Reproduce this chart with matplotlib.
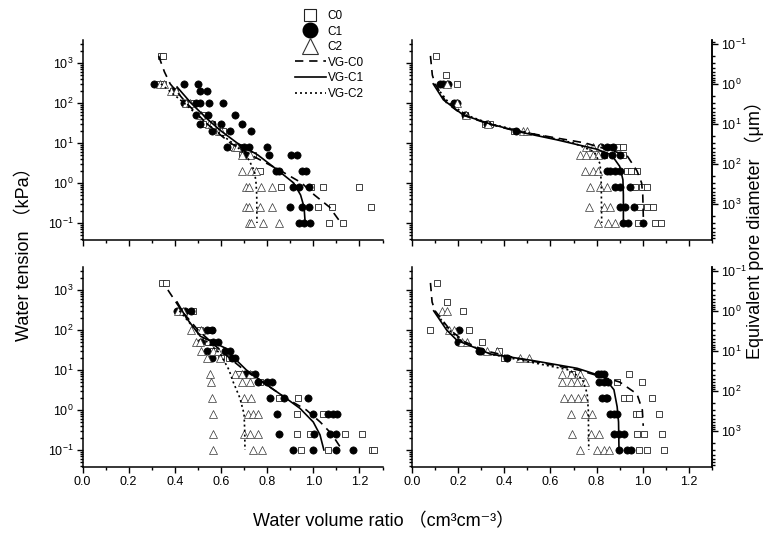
import numpy as np
import matplotlib
matplotlib.use('Agg')
import matplotlib.pyplot as plt
from matplotlib.ticker import (MultipleLocator, FormatStrFormatter, NullFormatter, FixedLocator)
from matplotlib.lines import Line2D

plt.rcParams['font.family'] = ['Liberation Sans', 'Noto Sans CJK SC', 'DejaVu Sans']
plt.rcParams['mathtext.fontset'] = 'custom'
plt.rcParams['mathtext.rm'] = 'Liberation Sans'
plt.rcParams['mathtext.it'] = 'Liberation Sans:italic'
plt.rcParams['mathtext.bf'] = 'Liberation Sans:bold'

# ---- data (x = water volume ratio, h = tension kPa) ----
# top-left panel
A_c0_x = [0.34, 0.35, 0.33, 0.35, 0.39, 0.40, 0.45, 0.47, 0.52, 0.52, 0.56, 0.59, 0.61, 0.65, 0.68,
          0.69, 0.74, 0.77, 0.86, 0.99, 1.04, 1.20, 1.02, 1.08, 1.25, 1.07, 1.13]
A_c0_h = [1500, 1500, 300, 300, 200, 200, 100, 100, 50, 30, 30, 20, 20, 8, 8,
          5, 5, 2, 0.8, 0.8, 0.8, 0.8, 0.25, 0.25, 0.25, 0.1, 0.1]
A_c1_x = [0.31, 0.44, 0.50, 0.39, 0.51, 0.54, 0.44, 0.49, 0.51, 0.55, 0.61, 0.49, 0.545, 0.66,
          0.51, 0.56, 0.60, 0.69, 0.56, 0.64, 0.73, 0.625, 0.67, 0.70, 0.72, 0.80,
          0.71, 0.81, 0.905, 0.93, 0.84, 0.85, 0.95, 0.97, 0.91, 0.94, 0.98, 0.90, 0.95, 0.98,
          0.94, 0.96, 0.985]
A_c1_h = [300, 300, 300, 200, 200, 200, 100, 100, 100, 100, 100, 50, 50, 50,
          30, 30, 30, 30, 20, 20, 20, 8, 8, 8, 8, 8,
          5, 5, 5, 5, 2, 2, 2, 2, 0.8, 0.8, 0.8, 0.25, 0.25, 0.25,
          0.1, 0.1, 0.1]
A_c2_x = [0.335, 0.355, 0.385, 0.405, 0.45, 0.465, 0.515, 0.55, 0.56, 0.59, 0.60, 0.66, 0.67,
          0.69, 0.725, 0.69, 0.73, 0.75, 0.71, 0.72, 0.775, 0.82, 0.71, 0.72, 0.77, 0.82,
          0.72, 0.73, 0.78, 0.85]
A_c2_h = [300, 300, 200, 200, 100, 100, 50, 30, 30, 20, 20, 8, 8,
          5, 5, 2, 2, 2, 0.8, 0.8, 0.8, 0.8, 0.25, 0.25, 0.25, 0.25,
          0.1, 0.1, 0.1, 0.1]
A_vg0_x = [0.33, 0.355, 0.38, 0.45, 0.54, 0.64, 0.73, 0.86, 0.95, 1.005, 1.07, 1.12]
A_vg0_h = [1500, 600, 300, 100, 30, 10, 5, 2, 1, 0.5, 0.25, 0.1]
A_vg1_x = [0.41, 0.47, 0.54, 0.60, 0.67, 0.76, 0.85, 0.915, 0.945, 0.96, 0.965]
A_vg1_h = [250, 100, 40, 20, 10, 5, 2, 1, 0.5, 0.25, 0.1]
A_vg2_x = [0.34, 0.44, 0.54, 0.65, 0.71, 0.745, 0.752, 0.755, 0.756]
A_vg2_h = [300, 100, 30, 10, 5, 2, 1, 0.5, 0.1]

# top-right panel
B_c0_x = [0.105, 0.148, 0.195, 0.186, 0.23, 0.316, 0.338, 0.44, 0.86, 0.89, 0.915, 0.83, 0.915,
          0.93, 0.95, 0.975, 0.965, 0.995, 1.02, 0.99, 1.02, 1.045, 0.98, 1.055, 1.08]
B_c0_h = [1500, 500, 300, 100, 50, 30, 30, 20, 8, 8, 8, 5, 5,
          2, 2, 2, 0.8, 0.8, 0.8, 0.25, 0.25, 0.25, 0.1, 0.1, 0.1]
B_c1_x = [0.12, 0.135, 0.155, 0.18, 0.195, 0.23, 0.325, 0.45, 0.82, 0.845, 0.87, 0.83, 0.865, 0.90,
          0.845, 0.86, 0.88, 0.90, 0.88, 0.90, 0.945, 0.90, 0.925, 0.96, 0.915, 0.935, 1.0]
B_c1_h = [300, 300, 300, 100, 100, 50, 30, 20, 8, 8, 8, 5, 5, 5,
          2, 2, 2, 2, 0.8, 0.8, 0.8, 0.25, 0.25, 0.25, 0.1, 0.1, 0.1]
B_c2_x = [0.15, 0.195, 0.235, 0.33, 0.48, 0.50, 0.755, 0.785, 0.815, 0.73, 0.755, 0.785, 0.805,
          0.75, 0.785, 0.805, 0.77, 0.815, 0.845, 0.765, 0.83, 0.86, 0.805, 0.85, 0.88]
B_c2_h = [300, 100, 50, 30, 20, 20, 8, 8, 8, 5, 5, 5, 5,
          2, 2, 2, 0.8, 0.8, 0.8, 0.25, 0.25, 0.25, 0.1, 0.1, 0.1]
B_vg0_x = [0.08, 0.088, 0.10, 0.15, 0.22, 0.33, 0.45, 0.75, 0.93, 0.975, 0.995, 1.0, 1.003]
B_vg0_h = [1500, 500, 300, 100, 50, 30, 20, 10, 5, 2, 1, 0.5, 0.1]
B_vg1_x = [0.092, 0.136, 0.222, 0.338, 0.482, 0.627, 0.80, 0.865, 0.90, 0.914, 0.916, 0.916]
B_vg1_h = [300, 120, 50, 30, 18, 12, 7, 5, 2.6, 1.2, 0.5, 0.1]
B_vg2_x = [0.095, 0.16, 0.235, 0.34, 0.47, 0.70, 0.79, 0.815, 0.82, 0.822]
B_vg2_h = [300, 100, 50, 30, 20, 10, 6, 3, 1, 0.1]

# bottom-left panel
C_c0_x = [0.345, 0.36, 0.42, 0.48, 0.51, 0.555, 0.545, 0.565, 0.60, 0.635, 0.68, 0.72, 0.77,
          0.852, 0.932, 0.928, 1.043, 0.928, 0.986, 1.137, 1.212, 0.945, 1.065, 1.253, 1.263]
C_c0_h = [1500, 1500, 300, 300, 100, 100, 50, 30, 20, 20, 8, 8, 5,
          2, 2, 0.8, 0.8, 0.25, 0.25, 0.25, 0.25, 0.1, 0.1, 0.1, 0.1]
C_c1_x = [0.41, 0.445, 0.47, 0.538, 0.56, 0.515, 0.567, 0.588, 0.538, 0.617, 0.639, 0.56, 0.646, 0.66,
          0.704, 0.747, 0.762, 0.798, 0.82, 0.812, 0.874, 0.978,
          0.841, 1.0, 1.065, 1.087, 1.104, 0.852, 1.003, 1.072, 1.10, 0.913, 1.0, 1.10, 1.173]
C_c1_h = [300, 300, 300, 100, 100, 50, 50, 50, 30, 30, 30, 20, 20, 20,
          8, 8, 5, 5, 5, 2, 2, 2,
          0.8, 0.8, 0.8, 0.8, 0.8, 0.25, 0.25, 0.25, 0.25, 0.1, 0.1, 0.1, 0.1]
C_c2_x = [0.415, 0.435, 0.47, 0.515, 0.49, 0.51, 0.515, 0.567, 0.588, 0.538, 0.598,
          0.552, 0.66, 0.69, 0.726, 0.558, 0.69, 0.726, 0.56, 0.70, 0.73,
          0.565, 0.718, 0.74, 0.762, 0.565, 0.70, 0.725, 0.76, 0.565, 0.74, 0.776]
C_c2_h = [300, 300, 100, 100, 50, 50, 30, 30, 30, 20, 20,
          8, 8, 8, 8, 5, 5, 5, 2, 2, 2,
          0.8, 0.8, 0.8, 0.8, 0.25, 0.25, 0.25, 0.25, 0.1, 0.1, 0.1]
C_vg0_x = [0.37, 0.43, 0.50, 0.60, 0.70, 0.78, 0.88, 0.97, 1.03, 1.08, 1.125]
C_vg0_h = [1000, 300, 100, 30, 10, 5, 2, 1, 0.5, 0.25, 0.1]
C_vg1_x = [0.41, 0.45, 0.51, 0.62, 0.653, 0.71, 0.80, 0.88, 0.942, 1.0, 1.029, 1.046]
C_vg1_h = [500, 200, 70, 35, 21, 10, 4.2, 2, 1.1, 0.5, 0.24, 0.1]
C_vg2_x = [0.42, 0.49, 0.54, 0.596, 0.635, 0.653, 0.682, 0.70, 0.703, 0.704]
C_vg2_h = [300, 100, 50, 26, 10, 5, 2, 0.8, 0.3, 0.1]

# bottom-right panel
D_c0_x = [0.108, 0.152, 0.221, 0.08, 0.246, 0.304, 0.296, 0.376, 0.398, 0.694, 0.94, 0.889, 0.998,
          0.918, 0.94, 1.041, 0.969, 0.983, 1.07, 0.976, 1.005, 1.085, 0.983, 1.02, 1.092]
D_c0_h = [1500, 500, 300, 100, 100, 50, 30, 30, 20, 8, 8, 5, 5,
          2, 2, 2, 0.8, 0.8, 0.8, 0.25, 0.25, 0.25, 0.1, 0.1, 0.1]
D_c1_x = [0.202, 0.20, 0.29, 0.30, 0.41, 0.805, 0.82, 0.83, 0.81, 0.83, 0.85, 0.825, 0.84, 0.846,
          0.86, 0.875, 0.89, 0.875, 0.897, 0.918, 0.897, 0.933, 0.947]
D_c1_h = [100, 50, 30, 30, 20, 8, 8, 8, 5, 5, 5, 2, 2, 2,
          0.8, 0.8, 0.8, 0.25, 0.25, 0.25, 0.1, 0.1, 0.1]
D_c2_x = [0.13, 0.15, 0.16, 0.18, 0.217, 0.24, 0.325, 0.37, 0.47, 0.505, 0.65, 0.69, 0.73,
          0.65, 0.69, 0.715, 0.75, 0.66, 0.69, 0.72, 0.745, 0.69, 0.75, 0.78, 0.695, 0.775, 0.81,
          0.73, 0.80, 0.83, 0.855]
D_c2_h = [300, 300, 100, 100, 50, 50, 30, 30, 20, 20, 8, 8, 8,
          5, 5, 5, 5, 2, 2, 2, 2, 0.8, 0.8, 0.8, 0.25, 0.25, 0.25,
          0.1, 0.1, 0.1, 0.1]
D_vg0_x = [0.08, 0.087, 0.10, 0.165, 0.23, 0.32, 0.45, 0.72, 0.90, 0.975, 0.998, 1.002]
D_vg0_h = [1500, 500, 300, 100, 50, 30, 20, 10, 5, 2.5, 1, 0.4]
D_vg1_x = [0.094, 0.15, 0.195, 0.34, 0.528, 0.716, 0.832, 0.875, 0.889, 0.895, 0.897]
D_vg1_h = [300, 100, 55, 25, 17, 11, 6.7, 3.2, 1.2, 0.5, 0.1]
D_vg2_x = [0.097, 0.16, 0.22, 0.34, 0.53, 0.68, 0.738, 0.759, 0.764, 0.766]
D_vg2_h = [300, 100, 50, 25, 15, 10, 6, 2.6, 1, 0.1]

# tick values
tension_ticks = [0.1, 1, 10, 100, 1000]
pore_ticks = [0.1, 1, 10, 100, 1000]

panels = {
    'A': (A_c0_x, A_c0_h, A_c1_x, A_c1_h, A_c2_x, A_c2_h, A_vg0_x, A_vg0_h, A_vg1_x, A_vg1_h, A_vg2_x, A_vg2_h),
    'B': (B_c0_x, B_c0_h, B_c1_x, B_c1_h, B_c2_x, B_c2_h, B_vg0_x, B_vg0_h, B_vg1_x, B_vg1_h, B_vg2_x, B_vg2_h),
    'C': (C_c0_x, C_c0_h, C_c1_x, C_c1_h, C_c2_x, C_c2_h, C_vg0_x, C_vg0_h, C_vg1_x, C_vg1_h, C_vg2_x, C_vg2_h),
    'D': (D_c0_x, D_c0_h, D_c1_x, D_c1_h, D_c2_x, D_c2_h, D_vg0_x, D_vg0_h, D_vg1_x, D_vg1_h, D_vg2_x, D_vg2_h),
}

W, H = 768, 536
fig = plt.figure(figsize=(W / 100, H / 100), dpi=100)

def px_rect(x0, x1, y0, y1):
    return [x0 / W, 1 - y1 / H, (x1 - x0) / W, (y1 - y0) / H]

rects = {
    'A': px_rect(82.5, 382.5, 40, 240),
    'B': px_rect(412, 712, 40, 240),
    'C': px_rect(82.5, 382.5, 267, 467),
    'D': px_rect(412, 712, 267, 467),
}

dash = (0, (5, 3.5))
dot = (0, (1.2, 1.8))

# minor ticks inside the shown range only
minor_vals = [m * 10.0 ** e for e in range(-2, 4) for m in range(2, 10)]

for key, rect in rects.items():
    c0x, c0h, c1x, c1h, c2x, c2h, v0x, v0h, v1x, v1h, v2x, v2h = panels[key]
    ax = fig.add_axes(rect)
    ax.plot(c0x, c0h, 's', ms=4.4, mfc='white', mec='#222222', mew=0.6, ls='none', zorder=2)
    ax.plot(c1x, c1h, 'o', ms=5.2, mfc='black', mec='black', mew=0.5, ls='none', zorder=2)
    ax.plot(c2x, c2h, '^', ms=5.6, mfc='white', mec='#333333', mew=0.5, ls='none', zorder=2)
    ax.plot(v0x, v0h, color='black', lw=1.2, ls=dash, zorder=3)
    ax.plot(v1x, v1h, color='black', lw=1.2, ls='-', zorder=3)
    ax.plot(v2x, v2h, color='black', lw=1.2, ls=dot, zorder=3)

    ax.set_yscale('log')
    ax.set_xlim(0, 1.3)
    ax.set_ylim(0.0375, 3750)
    ax.xaxis.set_major_locator(MultipleLocator(0.2))
    ax.xaxis.set_minor_locator(MultipleLocator(0.1))
    ax.xaxis.set_major_formatter(FormatStrFormatter('%.1f'))
    ax.yaxis.set_major_locator(FixedLocator(tension_ticks))
    ax.yaxis.set_minor_locator(FixedLocator([v for v in minor_vals if 0.0375 < v < 3750]))
    ax.yaxis.set_minor_formatter(NullFormatter())
    ax.tick_params(which='both', direction='out', width=1, labelsize=9, pad=2)
    ax.tick_params(which='major', length=4.5)
    ax.tick_params(which='minor', length=2.5)
    for s in ax.spines.values():
        s.set_linewidth(1.1)
    ax.spines['top'].set_visible(False)

    if key in ('A', 'B'):
        ax.tick_params(axis='x', labelbottom=False)
    if key in ('B', 'D'):
        ax.tick_params(axis='y', labelleft=False)
        sec = ax.secondary_yaxis('right', functions=(lambda h: 300.0 / np.asarray(h),
                                                     lambda d: 300.0 / np.asarray(d)))
        sec.yaxis.set_major_locator(FixedLocator(pore_ticks))
        sec.yaxis.set_minor_locator(FixedLocator([v for v in minor_vals if 0.08 < v < 8000]))
        sec.yaxis.set_minor_formatter(NullFormatter())
        sec.tick_params(which='both', direction='out', width=1, labelsize=9, pad=2)
        sec.tick_params(which='major', length=4.5)
        sec.tick_params(which='minor', length=2.5)
        sec.spines['right'].set_linewidth(1.1)
    else:
        ax.spines['right'].set_visible(False)

# legend (upper part of top-left panel)
handles = [
    Line2D([], [], marker='s', ms=9, mfc='white', mec='#222222', mew=0.8, ls='none'),
    Line2D([], [], marker='o', ms=10.5, mfc='black', mec='black', ls='none'),
    Line2D([], [], marker='^', ms=11, mfc='white', mec='#333333', mew=0.8, ls='none'),
    Line2D([], [], color='black', lw=1.2, ls=dash),
    Line2D([], [], color='black', lw=1.2, ls='-'),
    Line2D([], [], color='black', lw=1.2, ls=dot),
]
labels = ['C0', 'C1', 'C2', 'VG-C0', 'VG-C1', 'VG-C2']
fig.legend(handles, labels, loc='upper left', bbox_to_anchor=(295 / W, 1 - 10 / H),
           frameon=False, fontsize=8.5, handlelength=2.6, handletextpad=0.15,
           labelspacing=0.3, borderpad=0, borderaxespad=0)

fig.text(25 / W, 1 - 250 / H, 'Water tension （kPa）', rotation=90, ha='center', va='center', fontsize=13)
fig.text(754 / W, 1 - 226 / H, 'Equivalent pore diameter （μm）', rotation=90, ha='center', va='center',
         fontsize=13)
fig.text(384 / W, 1 - 522 / H, 'Water volume ratio （cm³cm⁻³）', ha='center', va='center', fontsize=13)

fig.savefig('out.png', dpi=100)
